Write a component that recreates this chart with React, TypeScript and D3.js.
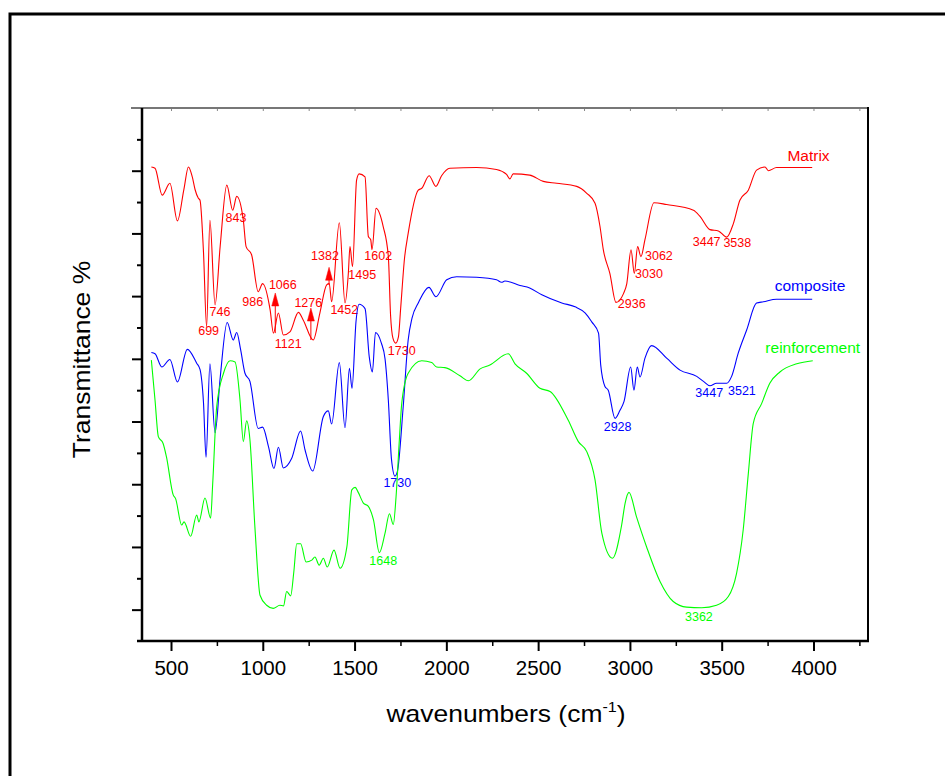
import React, { useRef, useEffect } from 'react';
import * as d3 from 'd3';

// FTIR spectra: [wavenumber (cm-1), transmittance (offset, a.u.)]
const matrix: [number, number][] = [
  [393, 75.6], [413, 75.4], [452, 71.1], [494, 73], [535, 67], [570, 72], [595, 75.6], [616, 74],
  [631, 72], [649, 70.6], [658, 70.3], [677, 62], [694, 50.1], [712, 67.1], [740, 53.6], [768, 63],
  [804, 72.7], [836, 68.7], [858, 70.9], [894, 67.1], [909, 62.9], [939, 61.6], [975, 55.7], [999, 57],
  [1040, 52.8], [1058, 49.1], [1085, 52.3], [1112, 48.8], [1148, 49.3], [1194, 52.4], [1220, 51.2],
  [1275, 48], [1311, 52.3], [1348, 56.8], [1362, 57], [1375, 54.1], [1417, 66.7], [1448, 53.9],
  [1466, 58.6], [1475, 62.9], [1489, 59.7], [1511, 73.5], [1525, 74.5], [1557, 74], [1575, 64.5],
  [1588, 64], [1595, 62.4], [1617, 69], [1656, 66.1], [1684, 61.3], [1696, 52], [1709, 48.3],
  [1724, 47.5], [1739, 48.5], [1751, 53], [1772, 61], [1792, 65], [1847, 71.9], [1866, 72.2],
  [1906, 74.2], [1943, 72.5], [1974, 74.2], [2019, 75.4], [2165, 75.5], [2273, 75.2], [2328, 74.4],
  [2346, 73.7], [2364, 74.5], [2454, 74.3], [2528, 73.3], [2601, 73], [2710, 72.5], [2765, 71.4],
  [2810, 69.8], [2837, 66.1], [2855, 62.4], [2891, 58.6], [2924, 54], [2965, 55.4], [2983, 57],
  [3006, 62.4], [3024, 58.6], [3042, 62.9], [3060, 61.3], [3082, 64], [3131, 69.9], [3200, 69.6],
  [3346, 68.7], [3382, 67.7], [3436, 65.6], [3482, 65.4], [3527, 64.4], [3564, 66.6], [3599, 70.3],
  [3645, 71.9], [3690, 75.1], [3736, 75.6], [3754, 75], [3799, 75.5], [3993, 75.5],
];

const composite: [number, number][] = [
  [393, 46], [413, 45.8], [450, 43.7], [494, 44.9], [535, 41.3], [589, 46.5], [640, 44.3], [658, 43.3],
  [677, 38], [691, 29.3], [712, 44.2], [740, 33.2], [768, 42], [806, 50.8], [839, 48], [858, 49.2],
  [879, 46.5], [903, 42.7], [930, 41.4], [975, 33.9], [999, 34.1], [1031, 31], [1061, 27.5],
  [1085, 30.9], [1112, 27.6], [1157, 29.1], [1206, 33.5], [1230, 30.5], [1272, 27.1], [1330, 35.8],
  [1357, 36.7], [1375, 34.6], [1417, 44.4], [1448, 34], [1472, 43.5], [1486, 40.3], [1508, 51],
  [1525, 53.7], [1557, 53], [1580, 45.3], [1597, 42.9], [1614, 49.2], [1646, 47.5], [1666, 45],
  [1684, 38.4], [1701, 29], [1720, 26.3], [1733, 27], [1765, 37.4], [1792, 48], [1813, 51.5],
  [1847, 53.9], [1905, 56.4], [1943, 54.9], [2002, 57.6], [2056, 58.1], [2165, 58], [2273, 57.6],
  [2301, 57.2], [2319, 57.4], [2401, 56.7], [2454, 56.3], [2520, 55.2], [2629, 53.9], [2701, 53.3],
  [2757, 52.3], [2792, 50.9], [2829, 49.1], [2841, 44], [2864, 40.6], [2882, 40], [2919, 35.5],
  [2946, 36.8], [2968, 38.2], [3004, 43.7], [3022, 40], [3040, 43.7], [3055, 42.1], [3082, 45.1],
  [3118, 47.1], [3200, 45.1], [3273, 43.2], [3364, 42.2], [3401, 41.4], [3436, 40.7], [3472, 41.1],
  [3527, 41.1], [3554, 42.2], [3590, 45.9], [3636, 49.6], [3690, 53.9], [3727, 54.1], [3799, 54.5],
  [3993, 54.5],
];

const reinforcement: [number, number][] = [
  [393, 44.8], [413, 38.4], [431, 32.6], [457, 31.5], [475, 29.4], [512, 23.3], [525, 22.7],
  [558, 18.5], [571, 19], [607, 16.7], [640, 20.1], [652, 19], [685, 22.8], [716, 19.6], [727, 25],
  [749, 37.4], [786, 42.7], [822, 44.7], [849, 44.5], [876, 38.4], [894, 31.8], [912, 35.1],
  [930, 32.1], [957, 18.2], [985, 7.3], [1021, 5.7], [1057, 5.2], [1093, 5.7], [1113, 5.6],
  [1130, 7.9], [1152, 7.2], [1169, 11], [1185, 15.5], [1206, 15.5], [1236, 12.6], [1267, 12.9],
  [1284, 13.4], [1307, 12.1], [1330, 13.2], [1351, 11.8], [1388, 14.5], [1421, 11.6], [1458, 15],
  [1485, 24.1], [1503, 24.5], [1520, 23.7], [1548, 22], [1574, 21.5], [1603, 19.3], [1635, 14.1],
  [1666, 17.2], [1690, 20.3], [1711, 18.6], [1726, 23], [1744, 32.1], [1757, 37.9], [1792, 42.7],
  [1866, 44.7], [1920, 44.4], [1947, 43.7], [1992, 43.6], [2074, 42.3], [2120, 41.5], [2184, 43.4],
  [2237, 44], [2337, 45.8], [2374, 44.2], [2437, 42.7], [2510, 40.3], [2565, 39.8], [2664, 35.2],
  [2719, 31.8], [2765, 30.2], [2810, 25.7], [2847, 17.2], [2905, 13.2], [2955, 18.5], [2974, 22],
  [2995, 23.7], [3036, 19.8], [3091, 15], [3164, 9.5], [3236, 6.3], [3309, 5.4], [3391, 5.3],
  [3472, 5.7], [3536, 7.1], [3581, 10.8], [3617, 17.7], [3645, 26.7], [3672, 34.7], [3718, 37.9],
  [3762, 41.1], [3817, 42.9], [3909, 44.2], [3996, 44.7],
];

// peak labels: [text, wavenumber, transmittance] where the label sits
const matrixPeaks: [string, number, number][] = [
  ['843', 854, 67.5], ['699', 705, 49.5], ['746', 767, 52.5], ['986', 945, 54.2],
  ['1066', 1109, 56.8], ['1121', 1139, 47.4], ['1276', 1248, 54], ['1382', 1339, 61.4],
  ['1495', 1542, 58.5], ['1452', 1444, 52.9], ['1602', 1629, 61.5], ['1730', 1757, 46.3],
  ['3062', 3158, 61.5], ['3030', 3104, 58.6], ['2936', 3010, 53.9], ['3447', 3418, 63.7],
  ['3538', 3585, 63.6],
];
const compositePeaks: [string, number, number][] = [
  ['1730', 1733, 25.2], ['2928', 2933, 34.2], ['3447', 3432, 39.6], ['3521', 3610, 40],
];
const reinforcementPeaks: [string, number, number][] = [
  ['1648', 1656, 12.8], ['3362', 3376, 3.9],
];

// arrows on the matrix trace: [wavenumber, base, tip]
const arrows: [number, number, number][] = [
  [1068, 49.1, 55.5], [1262, 48, 53.1], [1361, 56.8, 59.6],
];

const seriesNames = ['Matrix', 'composite', 'reinforcement'];
const seriesLabelAt: [number, number][] = [[3973, 77.5], [3981, 56.7], [3996, 46.8]];

const xMajor = [500, 1000, 1500, 2000, 2500, 3000, 3500, 4000];
const xMinor = [750, 1250, 1750, 2250, 2750, 3250, 3750, 4250];
const yMajor = [5, 15, 25, 35, 45, 55, 65, 75];
const yMinor = [10, 20, 30, 40, 50, 60, 70, 80];

const FONT = '"Liberation Sans", Arial, Helvetica, sans-serif';

const App = () => {
  const ref = useRef<SVGSVGElement>(null);

  useEffect(() => {
    const svg = d3.select(ref.current);
    svg.selectAll('*').remove();

    const left = 142, top = 108, right = 868, bottom = 641;
    const x = d3.scaleLinear().domain([342, 4297]).range([left, right]);
    const y = d3.scaleLinear().domain([0, 85]).range([bottom, top]);

    svg.append('rect')
      .attr('x', 10).attr('y', 14)
      .attr('width', 970).attr('height', 800)
      .attr('fill', 'none').attr('stroke', '#000').attr('stroke-width', 3);

    // bottom axis
    const xa = svg.append('g')
      .attr('transform', `translate(0, ${bottom})`)
      .call(d3.axisBottom(x).tickValues(xMajor).tickSize(10).tickPadding(9).tickFormat(d3.format('d')));
    xa.select('.domain').remove();
    xa.selectAll('line').attr('stroke-width', 2);
    xa.selectAll('text')
      .attr('font-family', FONT).attr('font-size', 20.5).attr('fill', '#000');

    const xm = svg.append('g')
      .attr('transform', `translate(0, ${bottom})`)
      .call(d3.axisBottom(x).tickValues(xMinor).tickSize(5).tickFormat(() => ''));
    xm.select('.domain').remove();
    xm.selectAll('line').attr('stroke-width', 1.5);

    // top frame ticks
    const xt = svg.append('g')
      .attr('transform', `translate(0, ${top})`)
      .call(d3.axisTop(x).tickValues([...xMajor, ...xMinor]).tickSize(-3).tickFormat(() => ''));
    xt.select('.domain').remove();
    xt.selectAll('line').attr('stroke', '#888').attr('stroke-width', 1);

    // left axis
    const ya = svg.append('g')
      .attr('transform', `translate(${left}, 0)`)
      .call(d3.axisLeft(y).tickValues(yMajor).tickSize(10).tickFormat(() => ''));
    ya.select('.domain').remove();
    ya.selectAll('line').attr('stroke-width', 2);

    const ym = svg.append('g')
      .attr('transform', `translate(${left}, 0)`)
      .call(d3.axisLeft(y).tickValues(yMinor).tickSize(5).tickFormat(() => ''));
    ym.select('.domain').remove();
    ym.selectAll('line').attr('stroke-width', 2);

    // frame lines
    svg.append('line').attr('x1', 131).attr('x2', right).attr('y1', top).attr('y2', top)
      .attr('stroke', '#777').attr('stroke-width', 2);
    svg.append('line').attr('x1', right).attr('x2', right).attr('y1', top - 1).attr('y2', bottom)
      .attr('stroke', '#000').attr('stroke-width', 2);
    svg.append('line').attr('x1', 137).attr('x2', right + 1).attr('y1', bottom).attr('y2', bottom)
      .attr('stroke', '#000').attr('stroke-width', 2.5);
    svg.append('line').attr('x1', left).attr('x2', left).attr('y1', top).attr('y2', bottom)
      .attr('stroke', '#000').attr('stroke-width', 2.5);

    const line = d3.line<[number, number]>()
      .x(d => x(d[0]))
      .y(d => y(d[1]))
      .curve(d3.curveMonotoneX);

    const series = [
      { data: matrix, color: '#ff0000', peaks: matrixPeaks },
      { data: composite, color: '#0000ff', peaks: compositePeaks },
      { data: reinforcement, color: '#00ff00', peaks: reinforcementPeaks },
    ];

    series.forEach((s, i) => {
      svg.append('path')
        .datum(s.data)
        .attr('fill', 'none')
        .attr('stroke', s.color)
        .attr('stroke-width', 1.1)
        .attr('d', line);

      svg.append('g')
        .selectAll('text')
        .data(s.peaks)
        .join('text')
        .attr('x', d => x(d[1]))
        .attr('y', d => y(d[2]))
        .attr('dy', '0.36em')
        .attr('text-anchor', 'middle')
        .attr('font-family', FONT)
        .attr('font-size', 12.5)
        .attr('fill', s.color)
        .text(d => d[0]);

      svg.append('text')
        .attr('x', x(seriesLabelAt[i][0]))
        .attr('y', y(seriesLabelAt[i][1]))
        .attr('dy', '0.36em')
        .attr('text-anchor', 'middle')
        .attr('font-family', FONT)
        .attr('font-size', 15.5)
        .attr('fill', s.color)
        .text(seriesNames[i]);
    });

    // arrows
    const ag = svg.append('g').attr('fill', '#ff0000').attr('stroke', '#ff0000');
    arrows.forEach(([wn, base, tip]) => {
      const ax = x(wn), tY = y(tip), bY = y(base);
      ag.append('line').attr('x1', ax).attr('x2', ax).attr('y1', bY).attr('y2', tY + 12)
        .attr('stroke-width', 1);
      ag.append('path')
        .attr('d', `M${ax},${tY} L${ax - 3.5},${tY + 13} L${ax + 3.5},${tY + 13} Z`)
        .attr('stroke-width', 0.5);
    });

    // axis titles
    const xt2 = svg.append('text')
      .attr('transform', `translate(${(left + right) / 2 + 1}, 722) scale(1.15, 1)`)
      .attr('text-anchor', 'middle')
      .attr('font-family', FONT)
      .attr('font-size', 23)
      .attr('fill', '#000');
    xt2.append('tspan').text('wavenumbers (cm');
    xt2.append('tspan').attr('font-size', 14).attr('dy', -10).text('-1');
    xt2.append('tspan').attr('dy', 10).text(')');

    svg.append('text')
      .attr('transform', `translate(90, ${(top + bottom) / 2 - 15}) rotate(-90) scale(1.15, 1)`)
      .attr('text-anchor', 'middle')
      .attr('font-family', FONT)
      .attr('font-size', 23)
      .attr('fill', '#000')
      .text('Transmittance %');
  }, []);

  return (
    <svg
      ref={ref}
      width={945}
      height={776}
      style={{ position: 'absolute', left: 0, top: 0, background: '#fff' }}
    />
  );
};

export default App;
